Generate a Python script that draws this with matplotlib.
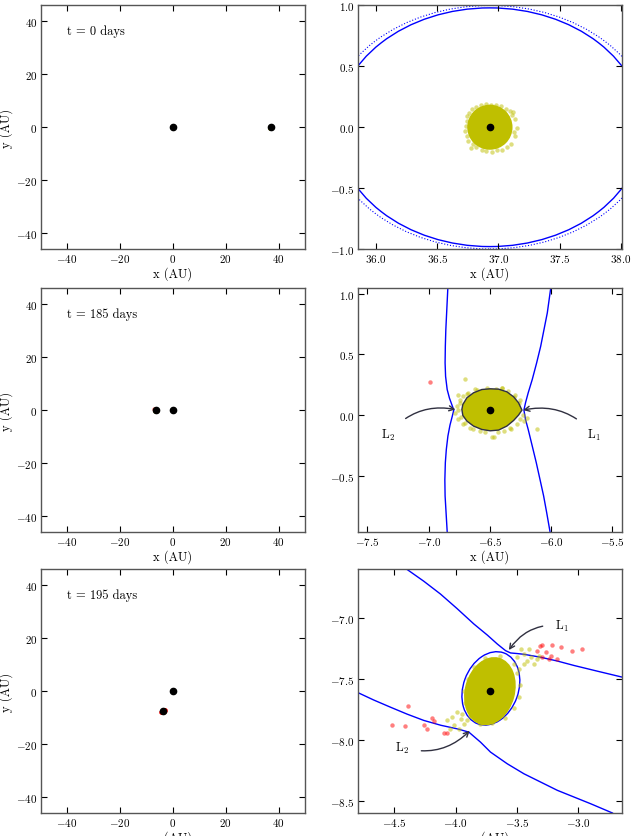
import matplotlib
matplotlib.use('Agg')
from matplotlib import pyplot as plt
from matplotlib.patches import Ellipse, Circle, Polygon

plt.rcParams['font.family'] = 'serif'
plt.rcParams['font.serif'] = ['cmr10']
plt.rcParams['mathtext.fontset'] = 'cm'
plt.rcParams['axes.formatter.use_mathtext'] = True

# snapshot times (days)
days = [0, 185, 195]

# star and planet positions (AU)
star_x, star_y = 0.0, 0.0
planet_x = [36.93, -6.50, -3.72]
planet_y = [0.0, 0.042, -7.60]

# t = 0: particle cloud (core radius + edge particles)
cloud0_radius = 0.185
edge0_x = [36.731, 36.745, 36.785, 36.854, 36.935, 37.017, 37.094, 37.132, 37.148, 37.135,
           37.099, 37.031, 36.949, 36.867, 36.794, 36.745, 36.725, 37.118, 36.772,
           36.740, 36.760, 36.820, 36.900, 36.980, 37.060, 37.110, 37.125, 37.070, 36.990,
           36.900, 36.820, 36.750]
edge0_y = [0.011, 0.093, 0.147, 0.180, 0.186, 0.175, 0.134, 0.065, -0.003, -0.071,
           -0.140, -0.186, -0.202, -0.186, -0.140, -0.071, -0.030, 0.126, -0.167,
           0.050, 0.120, 0.170, 0.190, 0.185, 0.150, 0.100, -0.040, -0.160, -0.190,
           -0.195, -0.165, -0.110]
# t = 0: zero velocity curve, solid and dotted (semi axes)
zvc0_solid = (1.256, 0.98)
zvc0_dotted = (1.326, 1.00)

# t = 185: Roche lobe outline
lobe185_x = [-6.238, -6.266, -6.306, -6.361, -6.429, -6.497, -6.566, -6.634, -6.688, -6.721,
             -6.729, -6.721, -6.688, -6.634, -6.566, -6.497, -6.429, -6.361, -6.306, -6.266]
lobe185_y = [0.043, 0.103, 0.152, 0.193, 0.215, 0.218, 0.212, 0.185, 0.144, 0.089,
             0.048, -0.001, -0.047, -0.088, -0.116, -0.127, -0.121, -0.088, -0.042, 0.002]
# t = 185: outer curves through L2 (left) and L1 (right)
left185_x = [-6.844, -6.852, -6.860, -6.864, -6.866, -6.862, -6.849, -6.830, -6.810, -6.795,
             -6.808, -6.826, -6.843, -6.856, -6.864, -6.868, -6.866, -6.849]
left185_y = [1.037, 0.870, 0.704, 0.570, 0.431, 0.320, 0.212, 0.140, 0.085, 0.043,
             -0.010, -0.080, -0.170, -0.280, -0.389, -0.530, -0.662, -0.954]
right185_x = [-6.004, -6.031, -6.058, -6.085, -6.118, -6.154, -6.187, -6.209, -6.222,
              -6.209, -6.187, -6.154, -6.121, -6.091, -6.061, -6.036, -6.009]
right185_y = [1.037, 0.841, 0.704, 0.567, 0.431, 0.294, 0.185, 0.103, 0.043,
              -0.034, -0.116, -0.252, -0.389, -0.525, -0.662, -0.799, -0.954]
# t = 185: loose particles
yel185_x = [-6.702, -6.402, -6.757, -6.743, -6.770, -6.784, -6.757, -6.716, -6.661, -6.470, -6.279,
            -6.225, -6.197, -6.116, -6.252, -6.293, -6.606, -6.675, -6.716, -6.334, -6.579, -6.388,
            -6.481, -6.399, -6.745, -6.735, -6.700, -6.640, -6.540, -6.430, -6.330, -6.250, -6.230,
            -6.260, -6.300, -6.520, -6.620, -6.690, -6.760, -6.450, -6.350]
yel185_y = [0.300, 0.226, 0.171, 0.130, 0.075, 0.021, -0.034, -0.075, -0.102, -0.176, -0.075,
            -0.047, -0.020, -0.110, 0.130, 0.171, 0.207, 0.185, 0.157, -0.102, -0.129, -0.129,
            -0.176, 0.226, 0.100, -0.010, -0.060, -0.110, -0.140, -0.140, -0.110, -0.030, 0.000,
            0.100, 0.150, 0.225, 0.215, 0.175, 0.040, 0.220, 0.200]
red185_x = [-6.991]
red185_y = [0.272]

# t = 195: cloud core (semi axes, angle) and Roche lobe (semi axes, angle)
core195 = (0.285, 0.205, 75)
lobe195_center = (-3.712, -7.577)
lobe195 = (0.31, 0.225, 70)
# t = 195: outer branches
upper195_x = [-4.397, -4.260, -4.124, -3.990, -3.851, -3.740, -3.660, -3.633, -3.592, -3.551,
              -3.496, -3.442, -3.306, -3.170, -3.032, -2.840, -2.637]
upper195_y = [-6.600, -6.697, -6.802, -6.920, -7.048, -7.140, -7.212, -7.234, -7.267, -7.286,
              -7.291, -7.297, -7.321, -7.352, -7.389, -7.436, -7.485]
lower195_x = [-4.806, -4.670, -4.533, -4.397, -4.260, -4.120, -3.987, -3.892, -3.797, -3.715,
              -3.578, -3.442, -3.169, -2.897, -2.719]
lower195_y = [-7.608, -7.672, -7.731, -7.788, -7.840, -7.880, -7.909, -7.936, -8.018, -8.100,
              -8.196, -8.278, -8.414, -8.524, -8.600]
# t = 195: tail particles (bound) and escaped particles
yel195_x = [-3.469, -3.401, -3.442, -3.388, -3.333, -3.319, -3.496, -3.360, -3.442, -3.483, -3.415,
            -3.523, -4.069, -4.028, -3.987, -3.960, -4.014, -3.933, -3.973, -4.042, -3.906, -3.947,
            -3.500, -3.470, -3.480, -3.520, -3.600, -3.700, -3.800, -3.880, -3.920, -3.930, -3.900,
            -3.850, -3.760, -3.640]
yel195_y = [-7.253, -7.253, -7.294, -7.321, -7.335, -7.307, -7.321, -7.376, -7.376, -7.417, -7.349,
            -7.376, -7.840, -7.813, -7.772, -7.827, -7.881, -7.868, -7.909, -7.909, -7.840, -7.786,
            -7.450, -7.550, -7.650, -7.740, -7.820, -7.860, -7.870, -7.800, -7.700, -7.600, -7.500,
            -7.400, -7.330, -7.310]
red195_x = [-3.311, -3.292, -3.216, -3.142, -3.046, -2.964, -3.333, -3.265, -3.224, -3.169, -3.237,
            -3.292, -4.391, -4.519, -4.415, -4.260, -4.233, -4.192, -4.173, -4.091, -4.069]
red195_y = [-7.226, -7.221, -7.218, -7.239, -7.266, -7.256, -7.266, -7.280, -7.307, -7.335, -7.335,
            -7.316, -7.725, -7.881, -7.887, -7.881, -7.909, -7.819, -7.848, -7.944, -7.944]

# Lagrange points and label positions
l185 = {'L$_2$': ((-6.781, 0.048), (-7.33, -0.16), -0.3), 'L$_1$': ((-6.228, 0.043), (-5.65, -0.16), 0.3)}
l195 = {'L$_1$': ((-3.565, -7.262), (-3.13, -7.06), 0.3), 'L$_2$': ((-3.885, -7.925), (-4.44, -8.06), 0.3)}

YEL = (0.75, 0.75, 0.0)
LINE = '#303040'


def style(ax):
    ax.tick_params(direction='in', top=True, right=True, length=4, width=0.8, labelsize=8, pad=2.5)
    for s in ax.spines.values():
        s.set_color('#555555')
        s.set_linewidth(1.0)
    ax.set_xlabel('x (AU)', fontsize=9, labelpad=1)


def particles(ax, yx, yy, rx, ry, ms=3.2):
    ax.plot(yx, yy, 'o', color=YEL, alpha=0.5, ms=ms, mec='none', zorder=3)
    ax.plot(rx, ry, 'o', color='r', alpha=0.5, ms=ms, mec='none', zorder=3)


fig = plt.figure(figsize=(6.34, 8.37), dpi=100)
lefts = [0.0642, 0.5642]
bottoms = [0.7013, 0.3632, 0.0275]
w, h = 0.417, 0.291

for row in range(3):
    # left: whole system
    ax = fig.add_axes([lefts[0], bottoms[row], w, h])
    style(ax)
    px, py = planet_x[row], planet_y[row]
    if row == 0:
        particles(ax, edge0_x, edge0_y, [], [])
    elif row == 1:
        particles(ax, yel185_x, yel185_y, red185_x, red185_y)
    else:
        particles(ax, yel195_x, yel195_y, red195_x, red195_y)
    ax.plot([star_x, px], [star_y, py], 'o', color='k', ms=4.5, zorder=5)
    ax.set_xlim(-50, 50)
    ax.set_ylim(-46, 46)
    ax.set_xticks([-40, -20, 0, 20, 40])
    ax.set_yticks([-40, -20, 0, 20, 40])
    ax.set_ylabel('y (AU)', fontsize=9, labelpad=2)
    ax.text(0.1, 0.895, f't = {days[row]} days', transform=ax.transAxes, fontsize=9, va='center')

    # right: zoom on planet
    ax = fig.add_axes([lefts[1], bottoms[row], w, h])
    style(ax)
    ax.set_xlim(px - 1.08, px + 1.08)
    ax.set_ylim(py - 1.0, py + 1.0)
    if row == 0:
        ax.add_patch(Ellipse((px, py), 2 * zvc0_solid[0], 2 * zvc0_solid[1], fill=False, ec='b', lw=1.0))
        ax.add_patch(Ellipse((px, py), 2 * zvc0_dotted[0], 2 * zvc0_dotted[1], fill=False, ec='b', lw=0.8, ls=':'))
        ax.add_patch(Circle((px, py), cloud0_radius, color=YEL, lw=0, zorder=2))
        particles(ax, edge0_x, edge0_y, [], [])
        ax.set_xticks([36.0, 36.5, 37.0, 37.5, 38.0])
        ax.set_yticks([-1.0, -0.5, 0.0, 0.5, 1.0])
    elif row == 1:
        ax.plot(left185_x, left185_y, color='b', lw=1.0)
        ax.plot(right185_x, right185_y, color='b', lw=1.0)
        particles(ax, yel185_x, yel185_y, red185_x, red185_y)
        ax.add_patch(Polygon(list(zip(lobe185_x, lobe185_y)), closed=True, fc=YEL, ec=LINE, lw=1.0, zorder=4))
        for lab, (xy, xyt, rad) in l185.items():
            ax.annotate(lab, xy=xy, xytext=xyt, ha='center', va='center', fontsize=9,
                        arrowprops=dict(arrowstyle='->', connectionstyle=f'arc3,rad={rad}',
                                        color=LINE, lw=1.0, shrinkA=7, shrinkB=0), zorder=6)
        ax.set_xticks([-7.5, -7.0, -6.5, -6.0, -5.5])
        ax.set_yticks([-0.5, 0.0, 0.5, 1.0])
    else:
        ax.plot(upper195_x, upper195_y, color='b', lw=1.0)
        ax.plot(lower195_x, lower195_y, color='b', lw=1.0)
        ax.add_patch(Ellipse(lobe195_center, 2 * lobe195[0], 2 * lobe195[1], angle=lobe195[2],
                             fill=False, ec='b', lw=1.0))
        ax.add_patch(Ellipse((px, py), 2 * core195[0], 2 * core195[1], angle=core195[2],
                             color=YEL, lw=0, zorder=2))
        particles(ax, yel195_x, yel195_y, red195_x, red195_y)
        for lab, (xy, xyt, rad) in l195.items():
            ax.annotate(lab, xy=xy, xytext=xyt, ha='center', va='center', fontsize=9,
                        arrowprops=dict(arrowstyle='->', connectionstyle=f'arc3,rad={rad}',
                                        color=LINE, lw=1.0, shrinkA=7, shrinkB=0), zorder=6)
        ax.set_xticks([-4.5, -4.0, -3.5, -3.0])
        ax.set_yticks([-8.5, -8.0, -7.5, -7.0])
    ax.plot([px], [py], 'o', color='k', ms=4.5, zorder=5)

fig.savefig('out.png', dpi=100)
plt.close()
